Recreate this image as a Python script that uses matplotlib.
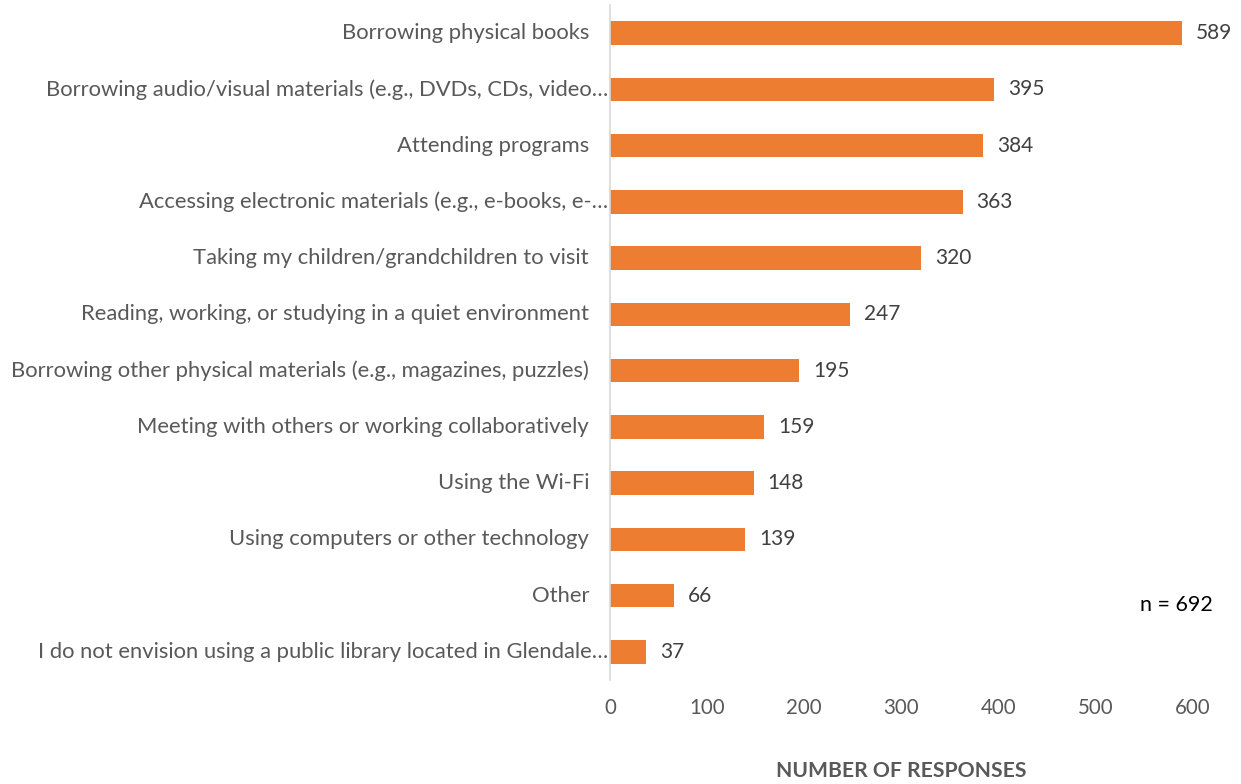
import numpy as np
import matplotlib.pyplot as plt

plt.rcParams['font.family'] = ['Lato', 'DejaVu Sans']

activities = [
    'Borrowing physical books',
    'Borrowing audio/visual materials (e.g., DVDs, CDs, video…',
    'Attending programs',
    'Accessing electronic materials (e.g., e-books, e-…',
    'Taking my children/grandchildren to visit',
    'Reading, working, or studying in a quiet environment',
    'Borrowing other physical materials (e.g., magazines, puzzles)',
    'Meeting with others or working collaboratively',
    'Using the Wi-Fi',
    'Using computers or other technology',
    'Other',
    'I do not envision using a public library located in Glendale…',
]
responses = [589, 395, 384, 363, 320, 247, 195, 159, 148, 139, 66, 37]
x_ticks = [0, 100, 200, 300, 400, 500, 600]

fig = plt.figure(figsize=(12.41, 7.84), dpi=100)
ax = fig.add_axes([0.4915, 0.1327, 0.4698, 0.8609])

pos = np.arange(len(activities))
ax.barh(pos, responses, height=0.42, color='#ED7D31')
ax.set_ylim(len(activities) - 0.5, -0.5)
ax.set_xlim(0, 600)

for p, v in zip(pos, responses):
    ax.annotate(str(v), (v, p), xytext=(10, 0), textcoords='offset points',
                va='center', ha='left', fontsize=15, color='#404040')

# category labels, truncated ones sit closer to the axis
for p, lab in zip(pos, activities):
    off = -1 if lab.endswith('…') else -15
    ax.annotate(lab, (0, p), xycoords=('axes fraction', 'data'),
                xytext=(off, 0), textcoords='offset points',
                va='center', ha='right', fontsize=15.8, color='#595959')

ax.set_yticks([])
ax.set_xticks(x_ticks)
ax.tick_params(axis='x', length=0, labelsize=14.8, labelcolor='#595959', pad=13)
for s in ['top', 'right', 'bottom']:
    ax.spines[s].set_visible(False)
ax.spines['left'].set_color('#D9D9D9')
ax.spines['left'].set_linewidth(1.2)

ax.set_xlabel('NUMBER OF RESPONSES', fontsize=15.2, color='#595959',
              fontweight='bold', labelpad=31)
fig.text(0.919, 0.228, 'n = 692', fontsize=15.5, color='black', ha='left', va='center')

fig.savefig('out.png', dpi=100)
